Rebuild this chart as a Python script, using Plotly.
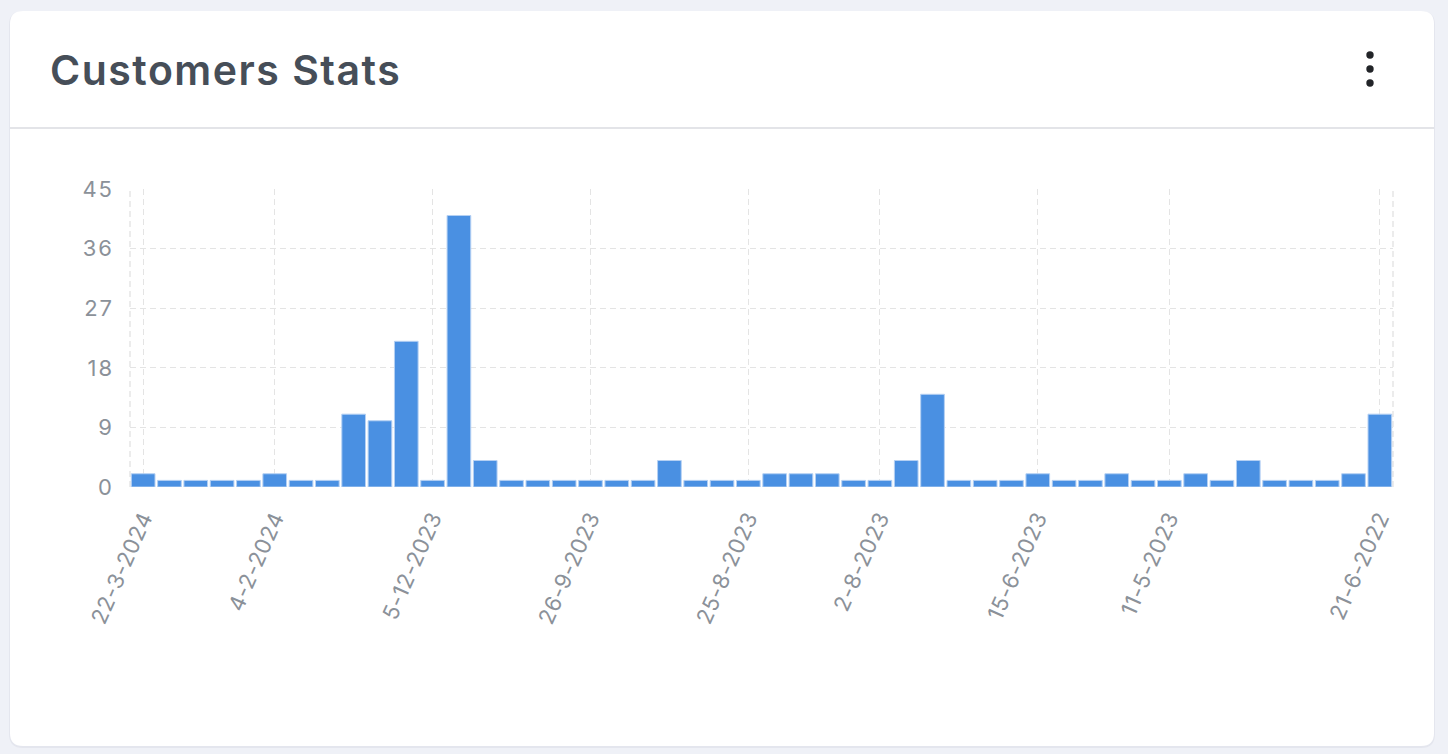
import plotly.graph_objects as go

# ---- data ----
values = [2, 1, 1, 1, 1, 2, 1, 1, 11, 10, 22, 1, 41, 4, 1, 1, 1, 1, 1, 1, 4, 1, 1, 1,
          2, 2, 2, 1, 1, 4, 14, 1, 1, 1, 2, 1, 1, 2, 1, 1, 2, 1, 4, 1, 1, 1, 2, 11]
tick_positions = [0, 5, 11, 17, 23, 28, 34, 39, 47]
tick_labels = ["22-3-2024", "4-2-2024", "5-12-2023", "26-9-2023", "25-8-2023",
               "2-8-2023", "15-6-2023", "11-5-2023", "21-6-2022"]
y_ticks = [0, 9, 18, 27, 36, 45]
title_text = "Customers Stats"

W, H = 1448, 754
L, R, T, B = 130, 1393, 189, 487  # plot area in pixels
PW, PH = R - L, B - T


def px(x):
    return (x - L) / PW


def py(y):
    return (B - y) / PH


def rrect(x0, y0, x1, y1, r):
    a, b, c, d = px(x0), px(x1), py(y0), py(y1)
    rx, ry = r / PW, r / PH
    return (f"M {a+rx},{c} L {b-rx},{c} Q {b},{c} {b},{c-ry} "
            f"L {b},{d+ry} Q {b},{d} {b-rx},{d} L {a+rx},{d} "
            f"Q {a},{d} {a},{d+ry} L {a},{c-ry} Q {a},{c} {a+rx},{c} Z")


def spaced(t, s):
    return f'<span style="letter-spacing:{s}px">{t}</span>'


fig = go.Figure()
fig.add_trace(go.Bar(
    x=list(range(len(values))), y=values,
    marker=dict(color="#4a90e2", line=dict(color="#b5d0f3", width=1)),
    hoverinfo="y",
))

grid_col = "#e4e4e4"
shapes = [
    dict(type="path", path=rrect(9, 11, 1435, 748, 14), xref="paper", yref="paper",
         fillcolor="#e4e6ee", line=dict(width=0), layer="below"),
    dict(type="path", path=rrect(10, 11, 1434, 746, 13), xref="paper", yref="paper",
         fillcolor="white", line=dict(width=0), layer="below"),
    dict(type="line", x0=px(10), x1=px(1434), y0=py(128), y1=py(128), xref="paper", yref="paper",
         line=dict(color="#e3e4e8", width=2), layer="below"),
    dict(type="line", x0=0, x1=0, y0=0, y1=1, xref="paper", yref="paper",
         line=dict(color=grid_col, width=1.4, dash="6px,4px"), layer="below"),
    dict(type="line", x0=1, x1=1, y0=0, y1=1, xref="paper", yref="paper",
         line=dict(color=grid_col, width=1.4, dash="6px,4px"), layer="below"),
]
for cy in (55, 69, 83):
    shapes.append(dict(type="circle", xref="paper", yref="paper",
                       x0=px(1366.3), x1=px(1373.7), y0=py(cy - 3.7), y1=py(cy + 3.7),
                       fillcolor="#222428", line=dict(width=0)))

fig.update_layout(
    width=W, height=H,
    margin=dict(l=L, r=W - R, t=T, b=H - B, pad=0),
    paper_bgcolor="#eff1f7",
    plot_bgcolor="rgba(0,0,0,0)",
    showlegend=False,
    bargap=0.1,
    font=dict(family="Inter, sans-serif", color="#8b9199"),
    shapes=shapes,
    annotations=[dict(text=spaced(title_text, 1.5), xref="paper", yref="paper",
                      x=px(48), y=py(70), xanchor="left", yanchor="middle",
                      showarrow=False,
                      font=dict(family="Inter, sans-serif", size=41, color="#464e58", weight=600))],
    xaxis=dict(range=[-0.5, len(values) - 0.5], tickmode="array",
               tickvals=tick_positions, ticktext=[spaced(t, 0.6) for t in tick_labels],
               tickangle=-66,
               showgrid=True, gridcolor=grid_col, gridwidth=1.4, griddash="6px,4px",
               zeroline=False, showline=False, ticks="", ticklabelstandoff=13,
               tickfont=dict(size=22, color="#8b9199")),
    yaxis=dict(range=[0, 45], tickmode="array", tickvals=y_ticks,
               ticktext=[spaced(v, 2) for v in y_ticks],
               showgrid=True, gridcolor=grid_col, gridwidth=1.4, griddash="6px,4px",
               zeroline=False, showline=False, ticks="", ticklabelstandoff=15,
               tickfont=dict(size=22, color="#8b9199")),
)

fig.write_html("out.html")
